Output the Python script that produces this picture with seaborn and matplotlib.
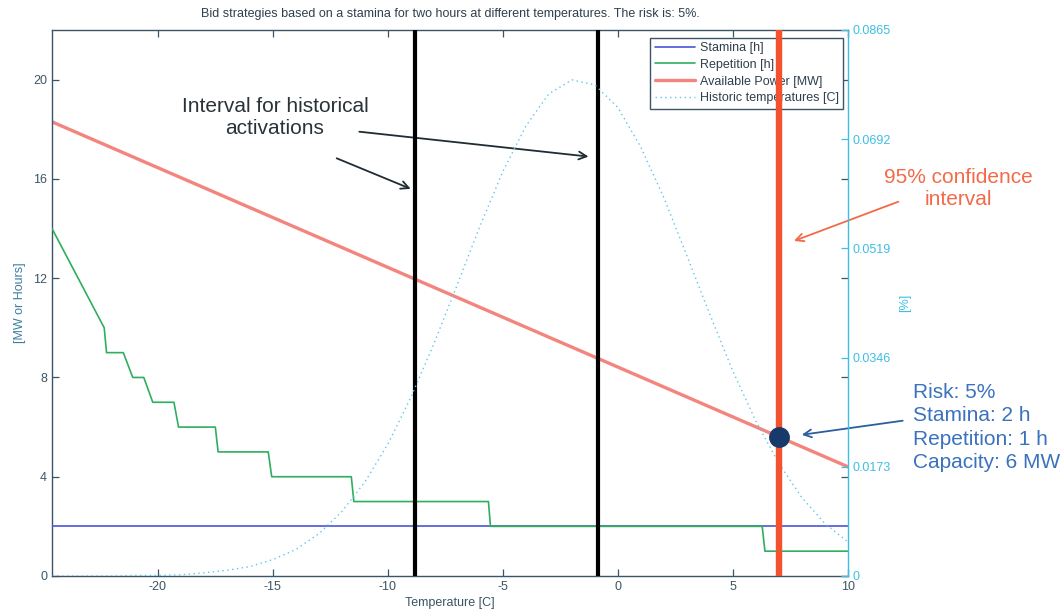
import matplotlib
matplotlib.use("Agg")
import matplotlib.pyplot as plt
import seaborn as sns
import pandas as pd

# ---------------- data ----------------
x_limits = [-24.6, 10.0]
stamina_temp = [-24.6, 10.0]
stamina_h = [2.0, 2.0]

repetition_temp = [-24.6, -22.33, -22.23, -21.5, -21.09, -20.61, -20.22, -19.3, -19.1,
                   -17.5, -17.38, -15.2, -15.05, -11.59, -11.48, -5.63, -5.54, 6.27, 6.39, 10.0]
repetition_h = [14.0, 10.0, 9.0, 9.0, 8.0, 8.0, 7.0, 7.0, 6.0,
                6.0, 5.0, 5.0, 4.0, 4.0, 3.0, 3.0, 2.0, 2.0, 1.0, 1.0]

power_temp = [-24.6, 10.0]
power_mw = [18.3, 4.4]

hist_temp = list(range(-25, 11))
hist_pct = [0.0000, 0.0000, 0.0000, 0.0000, 0.0001, 0.0001, 0.0002, 0.0005,
            0.0009, 0.0015, 0.0026, 0.0042, 0.0067, 0.0102, 0.0149, 0.0209, 0.0283,
            0.0368, 0.0460, 0.0554, 0.0641, 0.0713, 0.0764, 0.0786, 0.0778, 0.0742,
            0.0679, 0.0599, 0.0507, 0.0414, 0.0324, 0.0245, 0.0178, 0.0124, 0.0083, 0.0054]

interval_lines = [-8.80, -0.87]
confidence_temp = 7.02
bid_point = (7.0, 5.6)

x_ticks = [-20, -15, -10, -5, 0, 5, 10]
y_ticks = [0, 4, 8, 12, 16, 20]
y2_ticks = [0, 0.0173, 0.0346, 0.0519, 0.0692, 0.0865]
y2_labels = ["0", "0.0173", "0.0346", "0.0519", "0.0692", "0.0865"]

title = "Bid strategies based on a stamina for two hours at different temperatures. The risk is: 5%."
legend_labels = ["Stamina [h]", "Repetition [h]", "Available Power [MW]", "Historic temperatures [C]"]

# ---------------- style ----------------
sns.set_style("white")
plt.rcParams["font.family"] = ["Liberation Sans", "DejaVu Sans"]
plt.rcParams["axes.unicode_minus"] = False

W, H = 1063, 612
fig = plt.figure(figsize=(W / 100, H / 100), dpi=100)
ax = fig.add_axes([52 / W, 36 / H, 796 / W, 546 / H])
ax2 = ax.twinx()

axis_col = "#3c5566"
cyan = "#3dbfe3"
blue = "#4a55d8"
green = "#2fae5e"
salmon = "#f3857e"
redline = "#f2532e"

df_st = pd.DataFrame({"T": stamina_temp, "v": stamina_h})
df_rep = pd.DataFrame({"T": repetition_temp, "v": repetition_h})
df_pow = pd.DataFrame({"T": power_temp, "v": power_mw})
df_hist = pd.DataFrame({"T": hist_temp, "v": hist_pct})

sns.lineplot(data=df_pow, x="T", y="v", ax=ax, color=salmon, lw=2.4, sort=False,
             estimator=None, label=legend_labels[2], zorder=2)
sns.lineplot(data=df_st, x="T", y="v", ax=ax, color=blue, lw=1.2, sort=False,
             estimator=None, label=legend_labels[0], zorder=3)
sns.lineplot(data=df_rep, x="T", y="v", ax=ax, color=green, lw=1.2, sort=False,
             estimator=None, label=legend_labels[1], zorder=4)
for xv in interval_lines:
    ax.axvline(xv, color="black", lw=3.0, zorder=5)

sns.lineplot(data=df_hist, x="T", y="v", ax=ax2, color="#5cc6ee", lw=1.0,
             linestyle=(0, (1, 2.5)), sort=False, estimator=None, label=legend_labels[3])
ax2.axvline(confidence_temp, color=redline, lw=4.6, zorder=6)

ax.set_xlim(*x_limits)
ax.set_ylim(0, 22)
ax2.set_ylim(0, 0.0865)
ax.set_xticks(x_ticks)
ax.set_xticklabels([str(t) for t in x_ticks])
ax.set_yticks(y_ticks)
ax.set_yticklabels([str(t) for t in y_ticks])
ax2.set_yticks(y2_ticks)
ax2.set_yticklabels(y2_labels)

ax.set_xlabel("Temperature [C]", fontsize=9, color=axis_col, labelpad=3)
ax.set_ylabel("[MW or Hours]", fontsize=9, color="#3a7ea0", labelpad=5)
ax2.set_ylabel("[%]", fontsize=9, color=cyan, labelpad=6)
ax.set_title(title, fontsize=9, color="#2e3f4d", pad=9)

ax.tick_params(axis="both", direction="in", length=5, width=0.9, colors=axis_col,
               labelsize=9, top=True, right=True, left=True, bottom=True)
ax2.tick_params(axis="y", direction="in", length=5, width=0.9, colors=cyan, labelsize=9)
for s in ["left", "bottom", "top"]:
    ax.spines[s].set_color(axis_col)
    ax.spines[s].set_linewidth(1.0)
ax.spines["right"].set_visible(False)
for s in ["left", "bottom", "top"]:
    ax2.spines[s].set_visible(False)
ax2.spines["right"].set_color(cyan)
ax2.spines["right"].set_linewidth(1.0)

# legend combining both axes
h1, l1 = ax.get_legend_handles_labels()
h2, l2 = ax2.get_legend_handles_labels()
handles = dict(zip(l1 + l2, h1 + h2))
if ax2.get_legend():
    ax2.get_legend().remove()
leg = ax.legend([handles[l] for l in legend_labels], legend_labels,
                loc="upper right", bbox_to_anchor=(0.994, 0.986), fontsize=9,
                frameon=True, fancybox=False, edgecolor=axis_col, framealpha=1,
                handlelength=3.2, handletextpad=0.4, labelspacing=0.38,
                borderpad=0.35, borderaxespad=0)
leg.get_frame().set_linewidth(1.0)
for t in leg.get_texts():
    t.set_color("#2e3f4d")

# bid point
ax2.plot([bid_point[0]], [bid_point[1] * 0.0865 / 22], "o", color="#173a6b",
         markersize=14, zorder=8)

def fp(x, y):
    return (x, H - y)

# annotations
fig.text(275 / W, (H - 117.5) / H, "Interval for historical\nactivations", ha="center",
         va="center", fontsize=15, color="#2a3338", linespacing=1.2)
ax.annotate("", xy=(-9.01, 15.6), xycoords="data", xytext=fp(336.7, 158.3),
            textcoords="figure pixels",
            arrowprops=dict(arrowstyle="->", color="#1f2d33", lw=1.3,
                            mutation_scale=14, shrinkA=0, shrinkB=0))
ax.annotate("", xy=(-1.28, 16.9), xycoords="data", xytext=fp(359.3, 131.7),
            textcoords="figure pixels",
            arrowprops=dict(arrowstyle="->", color="#1f2d33", lw=1.3,
                            mutation_scale=14, shrinkA=0, shrinkB=0))

fig.text(958 / W, (H - 188.5) / H, "95% confidence\ninterval", ha="center", va="center",
         fontsize=15, color="#f26a48", linespacing=1.22)
ax.annotate("", xy=(7.65, 13.5), xycoords="data", xytext=fp(898.3, 201.7),
            textcoords="figure pixels", annotation_clip=False,
            arrowprops=dict(arrowstyle="->", color="#f26a48", lw=1.3,
                            mutation_scale=14, shrinkA=0, shrinkB=0))

fig.text(913 / W, (H - 427.5) / H, "Risk: 5%\nStamina: 2 h\nRepetition: 1 h\nCapacity: 6 MW",
         ha="left", va="center", fontsize=15, color="#3b72bd", linespacing=1.27)
ax.annotate("", xy=(7.99, 5.69), xycoords="data", xytext=fp(902.7, 420.7),
            textcoords="figure pixels", annotation_clip=False,
            arrowprops=dict(arrowstyle="->", color="#2a5f9e", lw=1.3,
                            mutation_scale=14, shrinkA=0, shrinkB=0))

fig.savefig("out.png", dpi=100)
